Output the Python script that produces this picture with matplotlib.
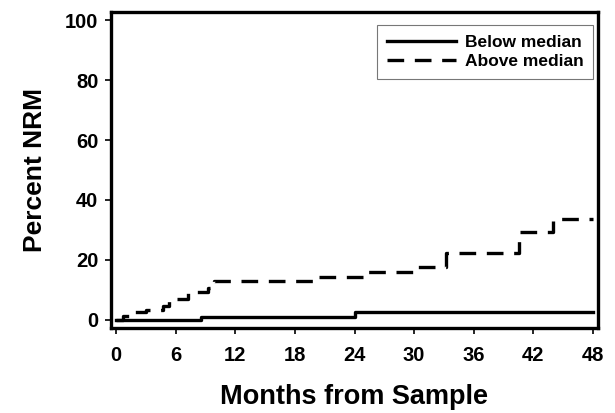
import matplotlib
matplotlib.use("Agg")
import matplotlib.pyplot as plt

# cumulative incidence of NRM (percent) by months from sample
below_t = [0, 8.6, 24.0, 48]
below_v = [0, 1.0, 2.8, 2.8]

above_t = [0, 0.7, 1.3, 3.0, 4.7, 5.3, 7.2, 9.3, 9.9, 19.8, 25.0, 29.9, 33.2, 40.6, 44.0, 48]
above_v = [0, 1.4, 2.6, 3.3, 4.8, 6.9, 9.3, 10.8, 13.1, 14.3, 16.0, 17.8, 22.2, 29.4, 33.7, 33.7]

x_ticks = [0, 6, 12, 18, 24, 30, 36, 42, 48]
y_ticks = [0, 20, 40, 60, 80, 100]

plt.rcParams["font.family"] = ["Liberation Sans", "DejaVu Sans"]
plt.rcParams["font.weight"] = "bold"

fig = plt.figure(figsize=(6.15, 4.13), dpi=100)
ax = fig.add_axes([111 / 615, 1 - 328 / 413, (598 - 111) / 615, (328 - 12) / 413])

ax.step(below_t, below_v, where="post", color="black", lw=2.4, label="Below median")
ax.step(above_t, above_v, where="post", color="black", lw=2.4, dashes=(5, 3.2),
        label="Above median")

ax.set_xlim(-0.5, 48.5)
ax.set_ylim(-2.7, 102.7)
ax.set_xticks(x_ticks)
ax.set_yticks(y_ticks)
ax.tick_params(direction="out", length=4, width=1.2, labelsize=14.5)
ax.tick_params(axis="x", pad=9)
ax.tick_params(axis="y", pad=5)
for lab in ax.get_xticklabels() + ax.get_yticklabels():
    lab.set_fontweight("bold")
for sp in ax.spines.values():
    sp.set_linewidth(2.4)

ax.set_xlabel("Months from Sample", fontsize=19.5, fontweight="bold", labelpad=14)
ax.set_ylabel("Percent NRM", fontsize=19, fontweight="bold", labelpad=13)

leg = ax.legend(loc="upper right", bbox_to_anchor=(0.99, 0.958), fontsize=12.5,
                frameon=True, fancybox=False, edgecolor="#555555",
                handlelength=4.0, handletextpad=0.5, borderpad=0.55,
                labelspacing=0.25, borderaxespad=0.0)
leg.get_frame().set_linewidth(0.8)
for t in leg.get_texts():
    t.set_fontweight("bold")

fig.savefig("out.png", dpi=100)
